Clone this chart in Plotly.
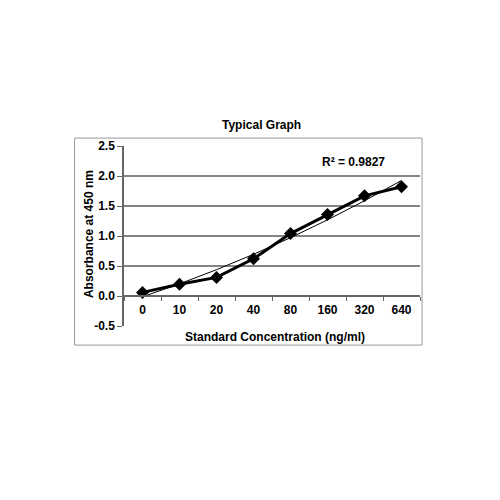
import plotly.graph_objects as go
import numpy as np

# standard curve readings
concentrations = ["0", "10", "20", "40", "80", "160", "320", "640"]
absorbance = [0.06, 0.195, 0.31, 0.62, 1.04, 1.36, 1.67, 1.82]
r_squared = "0.9827"
y_ticks = [-0.5, 0.0, 0.5, 1.0, 1.5, 2.0, 2.5]
y_labels = ["%.1f" % v for v in y_ticks]  # keeps a plain hyphen for -0.5

# 2nd order polynomial trendline over category positions (Excel style)
pos = np.arange(1, len(concentrations) + 1)
coef = np.polyfit(pos, absorbance, 2)
trend = np.polyval(coef, pos)

fnt = "Arial, Liberation Sans, sans-serif"

fig = go.Figure()
fig.add_trace(go.Scatter(x=concentrations, y=trend, mode="lines",
                         line=dict(color="black", width=1), showlegend=False))
fig.add_trace(go.Scatter(x=concentrations, y=absorbance, mode="lines+markers",
                         line=dict(color="black", width=3),
                         marker=dict(symbol="diamond", size=10, color="black"),
                         showlegend=False))

ymin, ymax = y_ticks[0], y_ticks[-1]

# page body adds 8px, so margins are shifted up/left by that
fig.update_layout(
    width=500, height=500,
    margin=dict(l=116, r=88, t=138, b=182),
    paper_bgcolor="white", plot_bgcolor="white",
    font=dict(family=fnt, size=12, color="black"),
    xaxis=dict(type="category", anchor="free",
               position=(0 - ymin) / (ymax - ymin),
               showgrid=False, showline=True, linecolor="#666", linewidth=1.5,
               ticks="outside", tickson="boundaries", ticklen=4, tickcolor="#666",
               ticklabelstandoff=3,
               tickfont=dict(family=fnt, size=12, weight="bold"),
               range=[-0.5, 7.5]),
    yaxis=dict(range=[ymin, ymax], tickvals=y_ticks, ticktext=y_labels,
               showgrid=True, gridcolor="#858585", gridwidth=1.6,
               zeroline=False, showline=True, linecolor="#666", linewidth=1.5,
               ticks="outside", ticklen=5, tickcolor="#666",
               tickfont=dict(family=fnt, size=12, weight="bold")),
)

# chart frame
fig.add_shape(type="rect", xref="paper", yref="paper",
              x0=-0.167, x1=1.007, y0=-0.106, y1=1.044,
              line=dict(color="#999", width=1), fillcolor="rgba(0,0,0,0)")

fig.add_annotation(text="<b>Typical Graph</b>", xref="paper", yref="paper",
                   x=0.466, y=1.117, xanchor="center", yanchor="middle",
                   showarrow=False, font=dict(size=12))
fig.add_annotation(text="<b>R² = " + r_squared + "</b>", xref="paper", yref="paper",
                   x=0.777, y=0.911, xanchor="center", yanchor="middle",
                   showarrow=False, font=dict(size=12))
fig.add_annotation(text="<b>Absorbance at 450 nm</b>", xref="paper", yref="paper",
                   x=-0.118, y=0.511, xanchor="center", yanchor="middle",
                   textangle=-90, showarrow=False, font=dict(size=12))
fig.add_annotation(text="<b>Standard Concentration (ng/ml)</b>", xref="paper",
                   yref="paper", x=0.51, y=-0.061, xanchor="center",
                   yanchor="middle", showarrow=False, font=dict(size=12))

fig.write_html("out.html")
